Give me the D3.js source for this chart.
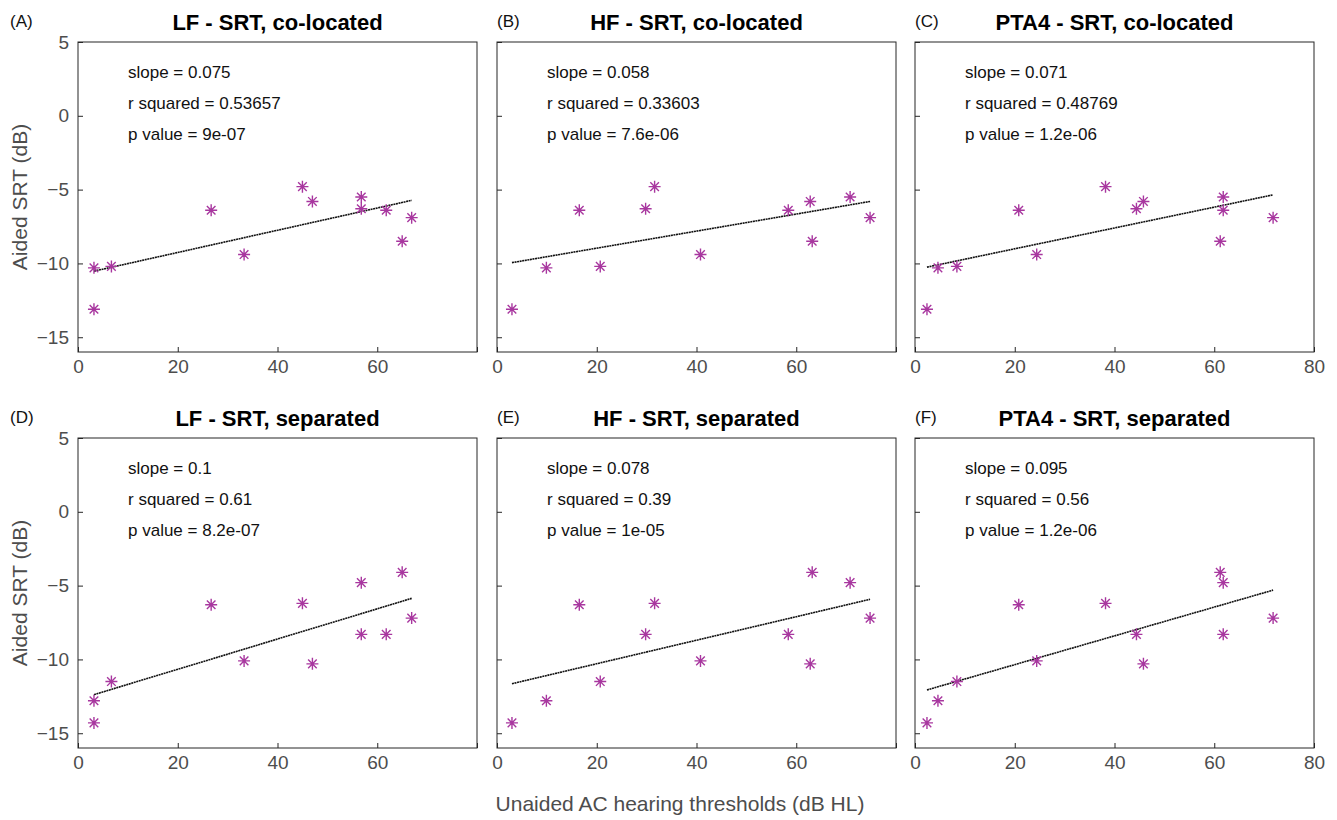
<!DOCTYPE html><html><head><meta charset="utf-8"><script src="https://cdn.jsdelivr.net/npm/d3@7"></script>
<style>body{margin:0;background:#fff}text{font-family:"Liberation Sans",Arial,sans-serif}</style></head><body>
<svg id="c" width="1337" height="820"></svg>
<script>
const titles=["LF - SRT, co-located","HF - SRT, co-located","PTA4 - SRT, co-located","LF - SRT, separated","HF - SRT, separated","PTA4 - SRT, separated"];
const letters=["(A)","(B)","(C)","(D)","(E)","(F)"];
const slopes=["0.075","0.058","0.071","0.1","0.078","0.095"];
const rsq=["0.53657","0.33603","0.48769","0.61","0.39","0.56"];
const pvals=["9e-07","7.6e-06","1.2e-06","8.2e-07","1e-05","1.2e-06"];
const xLF=[3.2,3.2,6.7,26.7,33.3,45,47,56.8,56.8,61.8,65,66.9];
const xHF=[9.9,3,20.7,16.5,40.8,31.6,62.8,70.8,29.8,58.4,63.2,74.8];
const xPTA=[4.6,2.4,8.4,20.8,24.4,38.2,45.8,61.8,44.4,61.8,61.2,71.8];
const ySRTco=[-10.3,-13.1,-10.2,-6.4,-9.4,-4.8,-5.8,-5.5,-6.3,-6.4,-8.5,-6.9];
const ySRTsep=[-12.8,-14.3,-11.5,-6.3,-10.1,-6.2,-10.3,-4.8,-8.3,-8.3,-4.1,-7.2];
const xTicks=[0,20,40,60,80], yTicks=[5,0,-5,-10,-15];
const xs=[xLF,xHF,xPTA], ys=[ySRTco,ySRTsep];
const svg=d3.select("#c");
const lefts=[78,497,915], tops=[42,438], W=399, H=310;
const col="#a8379f", gray="#4d4d4d";
for(let r=0;r<2;r++)for(let c=0;c<3;c++){
  const i=r*3+c, X=xs[c], Y=ys[r];
  const g=svg.append("g").attr("transform",`translate(${lefts[c]},${tops[r]})`);
  const x=d3.scaleLinear().domain([0,80]).range([0,W]);
  const y=d3.scaleLinear().domain([-16,5]).range([H,0]);
  g.append("rect").attr("width",W).attr("height",H).attr("fill","none").attr("stroke","#262626");
  const xa=g.append("g").attr("transform",`translate(0,${H})`).call(d3.axisBottom(x).tickValues(xTicks).tickSize(-5).tickPadding(8).tickFormat(d=>(d===80&&c<2)?"":d));
  const ya=g.append("g").call(d3.axisLeft(y).tickValues(yTicks).tickSize(-5).tickPadding(9).tickFormat(d=>c===0?d3.format("")(d).replace("-","\u2212"):""));
  [xa,ya].forEach(a=>{a.select(".domain").remove();a.selectAll("line").attr("stroke","#262626");a.selectAll("text").attr("fill",gray).style("font-size","19px");});
  const mx=d3.mean(X),my=d3.mean(Y);
  const b=d3.sum(X,(v,k)=>(v-mx)*(Y[k]-my))/d3.sum(X,v=>(v-mx)**2), a0=my-b*mx;
  const [x0,x1]=d3.extent(X);
  g.append("line").attr("x1",x(x0)).attr("x2",x(x1)).attr("y1",y(a0+b*x0)).attr("y2",y(a0+b*x1)).attr("stroke","#111").attr("stroke-width",1.6).attr("stroke-dasharray","2,0.6");
  const s=6, s2=4.3;
  g.selectAll("path.m").data(X.map((v,k)=>[v,Y[k]])).join("path")
   .attr("d",d=>{const px=x(d[0]),py=y(d[1]);return `M${px-s},${py}H${px+s}M${px},${py-s}V${py+s}M${px-s2},${py-s2}L${px+s2},${py+s2}M${px-s2},${py+s2}L${px+s2},${py-s2}`;})
   .attr("stroke",col).attr("stroke-width",1.4).attr("fill","none");
  const lines=["slope = "+slopes[i],"r squared = "+rsq[i],"p value = "+pvals[i]];
  lines.forEach((t,k)=>g.append("text").attr("x",50).attr("y",36+k*31).style("font-size","17px").attr("fill","#111").text(t));
  g.append("text").attr("x",W/2).attr("y",-12).attr("text-anchor","middle").style("font-size","22px").style("font-weight","bold").attr("fill","#000").text(titles[i]);
  svg.append("text").attr("x",c===0?10:lefts[c]).attr("y",tops[r]-15).style("font-size","17px").attr("fill","#111").text(letters[i]);
}
[197,593].forEach(cy=>svg.append("text").attr("transform",`translate(27,${cy}) rotate(-90)`).attr("text-anchor","middle").style("font-size","21px").attr("fill",gray).text("Aided SRT (dB)"));
svg.append("text").attr("x",680).attr("y",811).attr("text-anchor","middle").style("font-size","21px").attr("fill",gray).text("Unaided AC hearing thresholds (dB HL)");
</script></body></html>
